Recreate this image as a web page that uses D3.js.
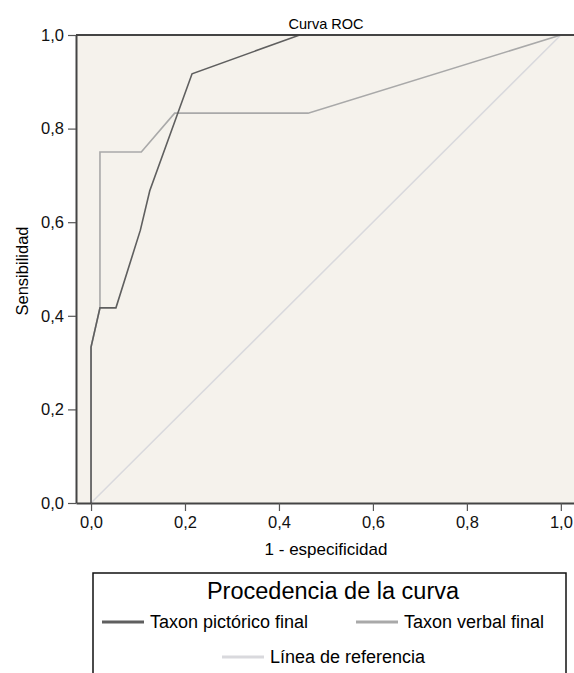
<!DOCTYPE html>
<html>
<head>
<meta charset="utf-8">
<script src="https://cdn.jsdelivr.net/npm/d3@7"></script>
<style>
  body { margin: 0; background: #fff; }
  svg { font-family: "Liberation Sans", Arial, Helvetica, sans-serif; }
</style>
</head>
<body>
<svg width="574" height="673"></svg>
<script>
// curva ROC
var pictoricoX = [0, 0, 0.019, 0.053, 0.105, 0.125, 0.215, 0.444, 1];
var pictoricoY = [0, 0.333, 0.417, 0.417, 0.583, 0.667, 0.917, 1, 1];
var verbalX = [0, 0, 0.019, 0.019, 0.107, 0.178, 0.462, 1];
var verbalY = [0, 0.333, 0.417, 0.75, 0.75, 0.833, 0.833, 1];
var referenciaX = [0, 1];
var referenciaY = [0, 1];
var ticks = [0, 0.2, 0.4, 0.6, 0.8, 1.0];
var series = ["Taxon pictórico final", "Taxon verbal final", "Línea de referencia"];
var colores = ["#5f5f5f", "#a9a9a9", "#d9d9dd"];

var svg = d3.select("svg");

var x = d3.scaleLinear().domain([-0.032, 1.028]).range([76, 574]);
var y = d3.scaleLinear().domain([0, 1]).range([503, 35]);
var fmt = function (d) { return d3.format(".1f")(d).replace(".", ","); };

// fondo
svg.append("rect")
    .attr("x", x(-0.032)).attr("y", y(1))
    .attr("width", x(1.028) - x(-0.032)).attr("height", y(0) - y(1))
    .attr("fill", "#f5f2ec");

var line = d3.line().x(function (d) { return x(d[0]); }).y(function (d) { return y(d[1]); });
var zip = function (a, b) { return a.map(function (v, i) { return [v, b[i]]; }); };

svg.append("path").attr("d", line(zip(referenciaX, referenciaY)))
    .attr("fill", "none").attr("stroke", colores[2]).attr("stroke-width", 1.5);
svg.append("path").attr("d", line(zip(verbalX, verbalY)))
    .attr("fill", "none").attr("stroke", colores[1]).attr("stroke-width", 1.6);
svg.append("path").attr("d", line(zip(pictoricoX, pictoricoY)))
    .attr("fill", "none").attr("stroke", colores[0]).attr("stroke-width", 1.6);

// ejes
var xAxis = svg.append("g").attr("transform", "translate(0," + y(0) + ")")
    .call(d3.axisBottom(x).tickValues(ticks).tickFormat(fmt).tickSize(8).tickSizeOuter(0));
var yAxis = svg.append("g").attr("transform", "translate(" + x(-0.032) + ",0)")
    .call(d3.axisLeft(y).tickValues(ticks).tickFormat(fmt).tickSize(8).tickSizeOuter(0));

[xAxis, yAxis].forEach(function (g) {
    g.select(".domain").attr("stroke", "#444").attr("stroke-width", 2);
    g.selectAll(".tick line").attr("stroke", "#555").attr("stroke-width", 1.2);
    g.selectAll(".tick text").attr("font-size", 16.5).attr("fill", "#111")
        .attr("font-family", "Liberation Sans, Arial, sans-serif");
});
xAxis.selectAll(".tick text").attr("dy", "0.9em").attr("y", 10);
yAxis.selectAll(".tick text").attr("x", -12);

// borde superior
svg.append("line")
    .attr("x1", x(-0.032)).attr("x2", x(1.028))
    .attr("y1", y(1)).attr("y2", y(1))
    .attr("stroke", "#444").attr("stroke-width", 2);

// titulos
svg.append("text").attr("x", 326).attr("y", 29).attr("text-anchor", "middle")
    .attr("font-size", 14.5).text("Curva ROC");
svg.append("text").attr("x", 326).attr("y", 555).attr("text-anchor", "middle")
    .attr("font-size", 17).text("1 - especificidad");
svg.append("text").attr("transform", "translate(28,271) rotate(-90)").attr("text-anchor", "middle")
    .attr("font-size", 16.5).text("Sensibilidad");

// leyenda
var leg = svg.append("g");
leg.append("rect").attr("x", 93).attr("y", 573).attr("width", 473).attr("height", 120)
    .attr("fill", "#fff").attr("stroke", "#111").attr("stroke-width", 1.5);
leg.append("text").attr("x", 333).attr("y", 599).attr("text-anchor", "middle")
    .attr("font-size", 23.5).text("Procedencia de la curva");

var items = [
    { x: 102, y: 622 },
    { x: 356, y: 622 },
    { x: 222, y: 657 }
];
items.forEach(function (it, i) {
    leg.append("line").attr("x1", it.x).attr("x2", it.x + 42)
        .attr("y1", it.y).attr("y2", it.y)
        .attr("stroke", colores[i]).attr("stroke-width", 3);
    leg.append("text").attr("x", it.x + 48).attr("y", it.y + 6)
        .attr("font-size", 18).text(series[i]);
});
</script>
</body>
</html>
